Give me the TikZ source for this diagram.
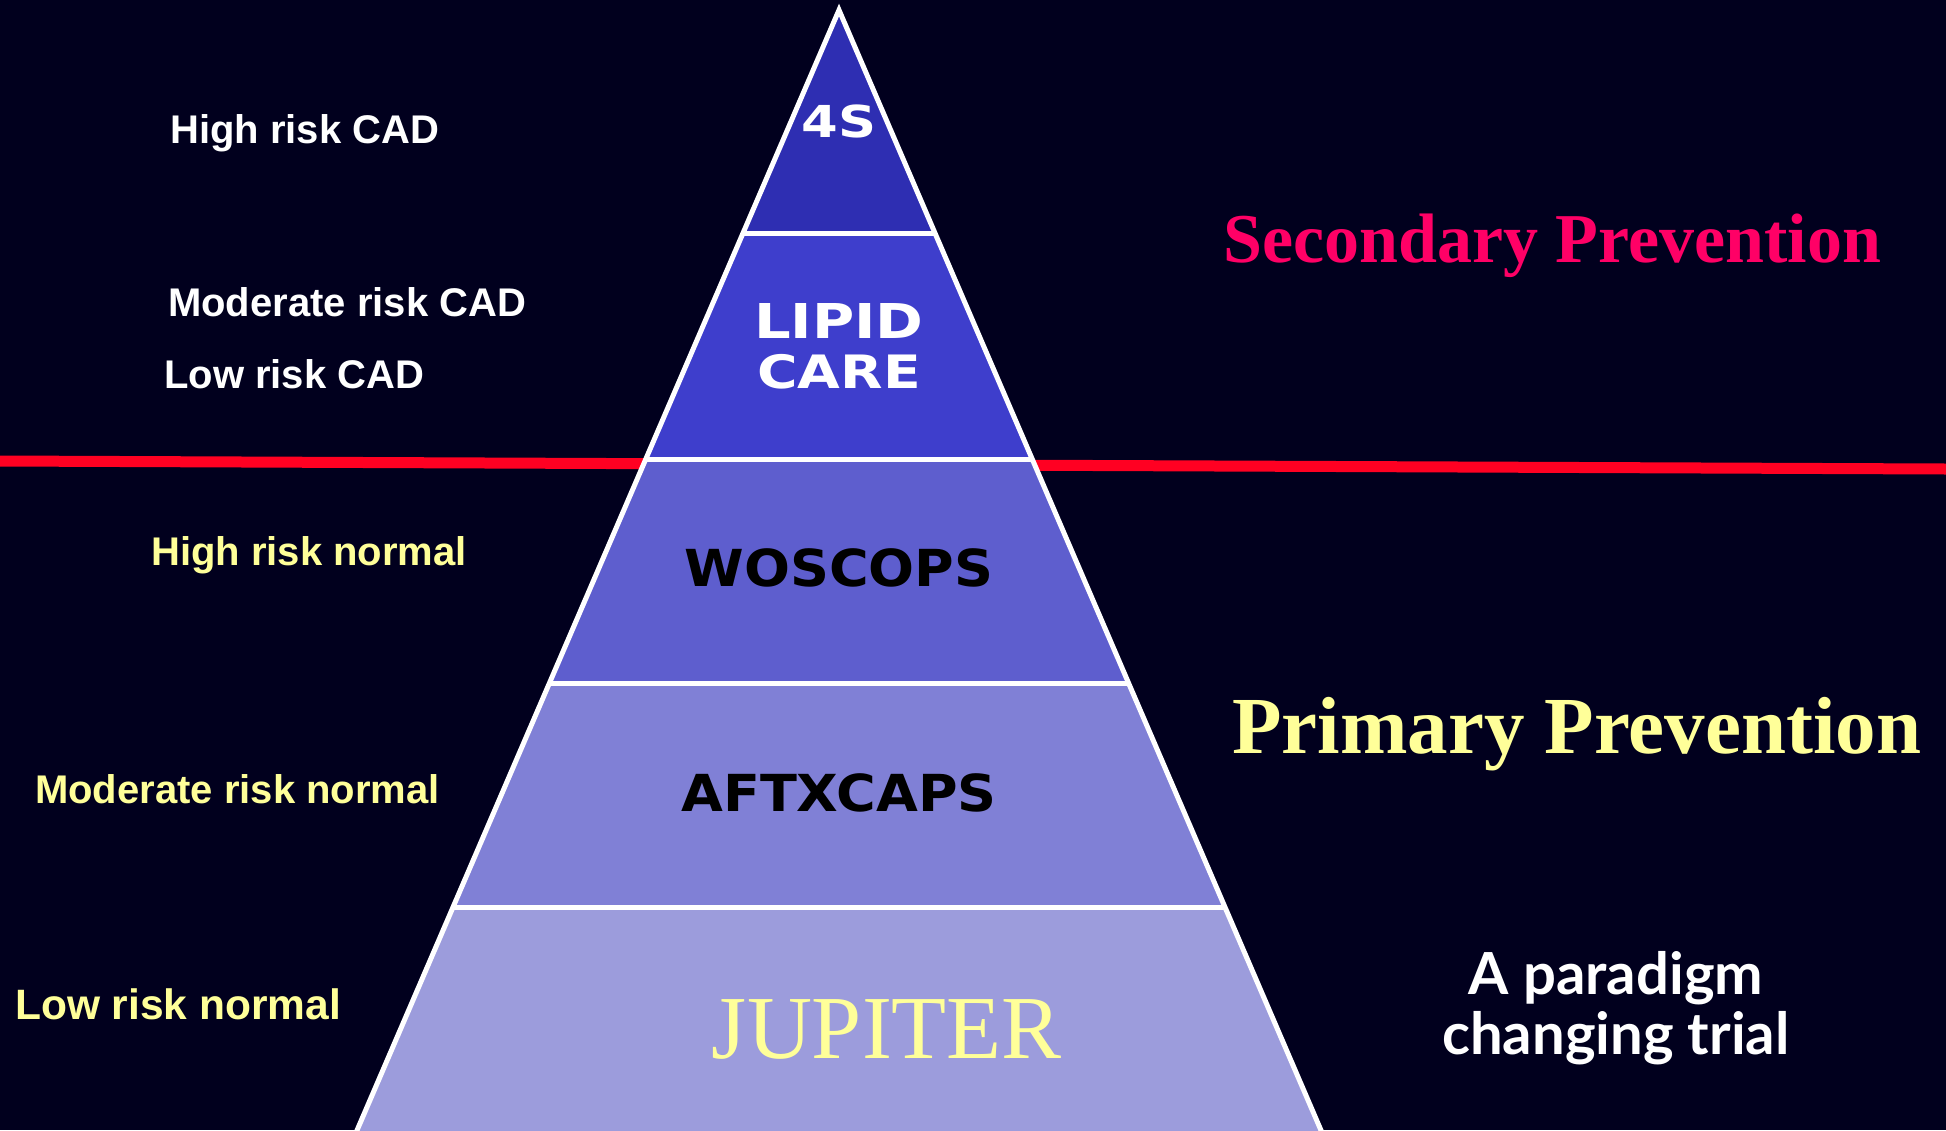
\documentclass[tikz,border=0pt]{standalone}
\usepackage{fontspec}
\setmainfont{Liberation Serif}
\newfontfamily\lblfont{Liberation Sans}
\newfontfamily\pyrfont[FakeStretch=1.06]{DejaVu Sans}
\newfontfamily\pyrwide[FakeStretch=1.2]{DejaVu Sans}
\newfontfamily\serifb{Liberation Serif}
\newfontfamily\notefont{Lato}
\definecolor{bgcol}{RGB}{1,0,30}
\definecolor{bandA}{RGB}{46,46,178}
\definecolor{bandB}{RGB}{62,62,204}
\definecolor{bandC}{RGB}{94,94,206}
\definecolor{bandD}{RGB}{128,128,214}
\definecolor{bandE}{RGB}{156,156,220}
\definecolor{redline}{RGB}{255,0,34}
\definecolor{pinktxt}{RGB}{255,0,102}
\definecolor{softyellow}{RGB}{255,255,153}
\tikzset{
  lbl/.style={anchor=base west, inner sep=0pt, font=\lblfont\bfseries\fontsize{40}{48}\selectfont},
  wlbl/.style={lbl, text=white},
  ylbl/.style={lbl, text=softyellow},
  pyr/.style={inner sep=0pt, font=\pyrfont\bfseries\fontsize{51}{60}\selectfont, text=black},
  pyrw/.style={inner sep=0pt, align=center, font=\pyrwide\bfseries\fontsize{46}{54}\selectfont, text=white},
  edgeline/.style={draw=white, line width=5pt},
  headline/.style={anchor=base west, inner sep=0pt, font=\serifb\bfseries},
}
\begin{document}
\begin{tikzpicture}[x=1pt,y=-1pt]
\useasboundingbox (0,0) rectangle (1946,1130);
\clip (0,0) rectangle (1946,1130);
\fill[bgcol] (0,0) rectangle (1946,1130);

% red divider
\coordinate (rl) at (0,461);
\coordinate (rr) at (1946,469);
\draw[redline, line width=11pt] (rl) -- (rr);

% pyramid corners
\coordinate (apex) at (839,10);
\coordinate (l1) at (743,233);  \coordinate (r1) at (935,233);
\coordinate (l2) at (646,459);  \coordinate (r2) at (1032,459);
\coordinate (l3) at (549,683);  \coordinate (r3) at (1129,683);
\coordinate (l4) at (453,907);  \coordinate (r4) at (1225,907);
\coordinate (l5) at (355,1135); \coordinate (r5) at (1323,1135);

\fill[bandA] (apex) -- (r1) -- (l1) -- cycle;
\fill[bandB] (l1) -- (r1) -- (r2) -- (l2) -- cycle;
\fill[bandC] (l2) -- (r2) -- (r3) -- (l3) -- cycle;
\fill[bandD] (l3) -- (r3) -- (r4) -- (l4) -- cycle;
\fill[bandE] (l4) -- (r4) -- (r5) -- (l5) -- cycle;

\draw[edgeline] (l5) -- (apex) -- (r5);
\draw[edgeline] (l1) -- (r1);
\draw[edgeline] (l2) -- (r2);
\draw[edgeline] (l3) -- (r3);
\draw[edgeline] (l4) -- (r4);

% pyramid labels
\node[pyrw, font=\pyrwide\bfseries\fontsize{44}{50}\selectfont] (fs) at (839,121) {4S};
\node[pyrw, font=\pyrwide\bfseries\fontsize{48}{54}\selectfont] (lipid) at (839,321) {LIPID};
\node[pyrw] (care) at (839,372) {CARE};
\node[pyr] (woscops) at (839,568) {WOSCOPS};
\node[pyr] (aftx) at (839,793) {AFTXCAPS};
\node[anchor=base, inner sep=0pt, text=softyellow, font=\serifb\fontsize{90}{100}\selectfont] (jup) at (887,1058) {JUPITER};

% left labels
\node[wlbl] (hcad) at (170,143) {High risk CAD};
\node[wlbl] (mcad) at (168,316) {Moderate risk CAD};
\node[wlbl] (lcad) at (164,388) {Low risk CAD};
\node[ylbl] (hnor) at (151,565) {High risk normal};
\node[ylbl] (mnor) at (35,803) {Moderate risk normal};
\node[ylbl, font=\lblfont\bfseries\fontsize{42.5}{50}\selectfont] (lnor) at (15,1019) {Low risk normal};

% right headings
\node[headline, text=pinktxt, font=\serifb\bfseries\fontsize{70}{80}\selectfont] (sec) at (1223,262) {Secondary Prevention};
\node[headline, text=softyellow, font=\serifb\bfseries\fontsize{81}{90}\selectfont] (prim) at (1232,753) {Primary Prevention};
\node[inner sep=0pt, align=center, text=white, font=\notefont\bfseries\fontsize{58}{60}\selectfont, anchor=base] (para) at (1616,1054) {A paradigm\\changing trial};
\end{tikzpicture}
\end{document}
